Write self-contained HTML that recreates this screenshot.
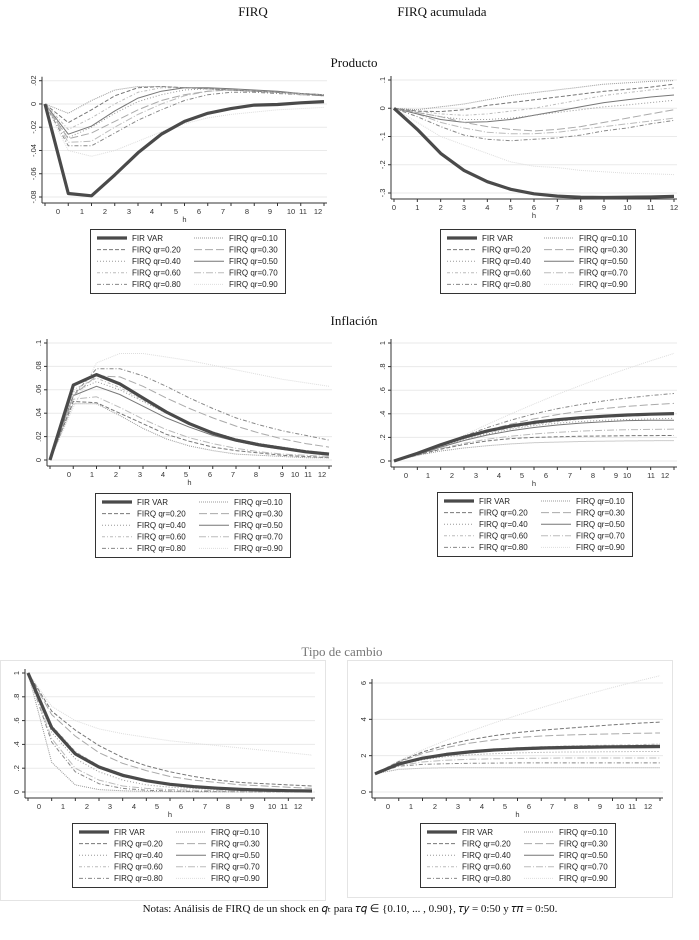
<!DOCTYPE html>
<html><head><meta charset="utf-8"><style>
body{margin:0;background:#fff;width:699px;height:940px;overflow:hidden;font-family:"Liberation Sans",sans-serif}
svg{position:absolute;left:0;top:0}
.t{font-family:"Liberation Serif",serif;font-size:13px;fill:#111}
.ax{font-size:7.5px;fill:#333}
.lg{font-size:8px;fill:#222}
</style></head><body>
<svg id="fig" width="699" height="940">
<text class="t" x="253" y="16" text-anchor="middle">FIRQ</text>
<text class="t" x="442" y="16" text-anchor="middle">FIRQ acumulada</text>
<text class="t" x="354" y="67" text-anchor="middle">Producto</text>
<text class="t" x="354" y="325" text-anchor="middle">Inflación</text>
<text class="t" x="342" y="656" text-anchor="middle" style="fill:#777">Tipo de cambio</text>
<rect x="0.5" y="660.5" width="325" height="240" fill="none" stroke="#e4e4e4"/>
<rect x="347.5" y="660.5" width="325" height="237" fill="none" stroke="#e4e4e4"/>
<text class="t" x="350" y="912" text-anchor="middle" style="font-size:11px">Notas: Análisis de FIRQ de un shock en 𝑞ₜ para 𝜏𝑞 ∈ {0.10, ... , 0.90}, 𝜏𝑦 = 0:50 y 𝜏𝜋 = 0:50.</text>
</svg>
<script>
const names=["FIR VAR","FIRQ qr=0.10","FIRQ qr=0.20","FIRQ qr=0.30","FIRQ qr=0.40","FIRQ qr=0.50","FIRQ qr=0.60","FIRQ qr=0.70","FIRQ qr=0.80","FIRQ qr=0.90"];
const xCats=[0,1,2,3,4,5,6,7,8,9,10,11,12];
// Producto FIRQ
const p1VAR=[0,-0.077,-0.079,-0.061,-0.042,-0.026,-0.015,-0.008,-0.004,-0.001,-0.0005,0.001,0.002];
const p1Q=[
[0,-0.008,0.003,0.012,0.015,0.015,0.014,0.013,0.012,0.011,0.01,0.009,0.008],
[0,-0.016,-0.005,0.007,0.014,0.015,0.014,0.013,0.012,0.011,0.01,0.009,0.008],
[0,-0.03,-0.025,-0.015,-0.005,0.003,0.008,0.011,0.012,0.011,0.01,0.009,0.008],
[0,-0.029,-0.02,-0.008,0.002,0.008,0.012,0.013,0.012,0.011,0.01,0.009,0.008],
[0,-0.026,-0.019,-0.006,0.005,0.011,0.014,0.014,0.013,0.012,0.011,0.009,0.007],
[0,-0.022,-0.012,0,0.01,0.014,0.014,0.013,0.012,0.011,0.01,0.008,0.007],
[0,-0.033,-0.032,-0.02,-0.009,0,0.007,0.011,0.012,0.011,0.01,0.008,0.007],
[0,-0.036,-0.036,-0.025,-0.014,-0.005,0.003,0.008,0.01,0.01,0.009,0.008,0.007],
[0,-0.04,-0.045,-0.04,-0.032,-0.024,-0.017,-0.012,-0.009,-0.007,-0.005,-0.004,-0.003]];
const p1Ticks=[0.02,0,-0.02,-0.04,-0.06,-0.08];
const p1TickLabels=[".02","0","-.02","-.04","-.06","-.08"];
// Producto acumulada
const p2VAR=[0,-0.075,-0.16,-0.22,-0.26,-0.287,-0.303,-0.311,-0.315,-0.316,-0.315,-0.314,-0.312];
const p2Q=[
[0,-0.005,0.005,0.015,0.03,0.045,0.055,0.065,0.075,0.085,0.09,0.095,0.098],
[0,-0.01,-0.012,-0.005,0.01,0.02,0.03,0.04,0.05,0.06,0.067,0.075,0.085],
[0,-0.015,-0.03,-0.05,-0.065,-0.075,-0.08,-0.075,-0.065,-0.05,-0.035,-0.02,-0.005],
[0,-0.015,-0.03,-0.04,-0.04,-0.035,-0.025,-0.015,-0.005,0.005,0.012,0.02,0.028],
[0,-0.02,-0.04,-0.05,-0.048,-0.04,-0.025,-0.01,0.005,0.02,0.03,0.04,0.047],
[0,-0.01,-0.02,-0.025,-0.02,-0.01,0,0.015,0.03,0.045,0.055,0.065,0.072],
[0,-0.02,-0.05,-0.07,-0.085,-0.09,-0.09,-0.085,-0.075,-0.065,-0.055,-0.045,-0.035],
[0,-0.03,-0.065,-0.095,-0.11,-0.115,-0.11,-0.105,-0.095,-0.08,-0.07,-0.055,-0.043],
[0,-0.05,-0.1,-0.13,-0.16,-0.19,-0.205,-0.21,-0.22,-0.225,-0.23,-0.232,-0.235]];
const p2Ticks=[0.1,0,-0.1,-0.2,-0.3];
const p2TickLabels=[".1","0","-.1","-.2","-.3"];
// Inflación FIRQ
const p3VAR=[0,0.064,0.073,0.065,0.053,0.041,0.031,0.023,0.017,0.013,0.01,0.007,0.005];
const p3Q=[
[0,0.048,0.048,0.038,0.027,0.018,0.012,0.008,0.005,0.004,0.003,0.002,0.002],
[0,0.05,0.049,0.04,0.031,0.022,0.016,0.011,0.008,0.006,0.004,0.003,0.002],
[0,0.055,0.072,0.071,0.063,0.053,0.044,0.036,0.029,0.023,0.018,0.014,0.011],
[0,0.058,0.067,0.06,0.05,0.04,0.031,0.024,0.018,0.014,0.011,0.008,0.006],
[0,0.055,0.063,0.056,0.046,0.036,0.028,0.021,0.016,0.012,0.009,0.007,0.005],
[0,0.06,0.07,0.062,0.051,0.04,0.031,0.024,0.018,0.014,0.011,0.008,0.006],
[0,0.052,0.054,0.045,0.035,0.026,0.019,0.014,0.01,0.007,0.005,0.004,0.003],
[0,0.055,0.078,0.078,0.072,0.063,0.053,0.044,0.036,0.03,0.025,0.021,0.017],
[0,0.045,0.083,0.091,0.091,0.088,0.085,0.081,0.077,0.073,0.069,0.066,0.063]];
const p3Ticks=[0.1,0.08,0.06,0.04,0.02,0];
const p3TickLabels=[".1",".08",".06",".04",".02","0"];
// Inflación acumulada
const p4VAR=[0,0.064,0.137,0.202,0.255,0.296,0.327,0.35,0.367,0.38,0.39,0.397,0.402];
const p4Q=[
[0,0.048,0.085,0.11,0.13,0.145,0.155,0.16,0.165,0.168,0.17,0.172,0.173],
[0,0.05,0.1,0.14,0.17,0.19,0.2,0.205,0.21,0.212,0.214,0.215,0.216],
[0,0.055,0.127,0.198,0.26,0.313,0.357,0.393,0.422,0.445,0.463,0.477,0.488],
[0,0.058,0.125,0.185,0.23,0.27,0.3,0.32,0.335,0.345,0.352,0.357,0.362],
[0,0.055,0.118,0.174,0.22,0.256,0.284,0.305,0.321,0.333,0.342,0.345,0.345],
[0,0.06,0.13,0.19,0.24,0.28,0.31,0.335,0.355,0.37,0.38,0.39,0.395],
[0,0.052,0.106,0.15,0.185,0.21,0.229,0.243,0.253,0.26,0.265,0.268,0.27],
[0,0.055,0.133,0.211,0.283,0.346,0.399,0.443,0.479,0.509,0.534,0.555,0.572],
[0,0.045,0.128,0.219,0.31,0.398,0.483,0.564,0.641,0.714,0.783,0.849,0.912]];
const p4Ticks=[1,0.8,0.6,0.4,0.2,0];
const p4TickLabels=["1",".8",".6",".4",".2","0"];
// Tipo de cambio FIRQ
const p5VAR=[1,0.54,0.32,0.21,0.14,0.095,0.065,0.045,0.032,0.022,0.016,0.011,0.008];
const p5Q=[
[1,0.25,0.06,0.02,0.01,0.005,0.003,0.002,0.001,0.001,0,0,0],
[1,0.68,0.52,0.39,0.29,0.22,0.17,0.13,0.1,0.08,0.07,0.06,0.05],
[1,0.65,0.47,0.33,0.24,0.18,0.13,0.1,0.08,0.06,0.05,0.04,0.03],
[1,0.5,0.28,0.17,0.1,0.06,0.04,0.03,0.02,0.015,0.01,0.008,0.006],
[1,0.53,0.31,0.2,0.13,0.09,0.06,0.04,0.03,0.02,0.015,0.01,0.008],
[1,0.56,0.34,0.22,0.15,0.1,0.07,0.05,0.035,0.025,0.018,0.013,0.01],
[1,0.45,0.2,0.1,0.05,0.03,0.02,0.015,0.01,0.008,0.006,0.005,0.004],
[1,0.42,0.17,0.07,0.03,0.015,0.008,0.005,0.003,0.002,0.001,0.001,0.001],
[1,0.72,0.6,0.53,0.49,0.46,0.43,0.41,0.39,0.37,0.35,0.33,0.31]];
const p5Ticks=[1,0.8,0.6,0.4,0.2,0];
const p5TickLabels=["1",".8",".6",".4",".2","0"];
// Tipo de cambio acumulada
const p6VAR=[1,1.54,1.86,2.07,2.21,2.31,2.37,2.42,2.45,2.47,2.49,2.5,2.51];
const p6Q=[
[1,1.25,1.31,1.33,1.33,1.33,1.33,1.33,1.33,1.33,1.33,1.33,1.33],
[1,1.68,2.2,2.59,2.88,3.1,3.27,3.4,3.5,3.6,3.7,3.78,3.85],
[1,1.65,2.12,2.45,2.69,2.87,3.0,3.08,3.13,3.17,3.2,3.23,3.25],
[1,1.5,1.78,1.95,2.05,2.11,2.15,2.18,2.2,2.21,2.22,2.23,2.23],
[1,1.53,1.84,2.04,2.17,2.26,2.32,2.36,2.39,2.41,2.42,2.43,2.44],
[1,1.56,1.9,2.12,2.27,2.37,2.44,2.49,2.53,2.56,2.58,2.6,2.65],
[1,1.45,1.65,1.75,1.8,1.83,1.85,1.86,1.87,1.87,1.87,1.87,1.87],
[1,1.42,1.52,1.56,1.58,1.59,1.6,1.6,1.6,1.6,1.6,1.6,1.6],
[1,1.72,2.32,2.85,3.34,3.8,4.23,4.64,5.03,5.4,5.75,6.08,6.4]];
const p6Ticks=[6,4,2,0];
const p6TickLabels=["6","4","2","0"];

const styles=[
{c:"#4a4a4a",w:3.2,d:""},
{c:"#999",w:1,d:"1 1"},
{c:"#777",w:1,d:"4 2"},
{c:"#aaa",w:1,d:"8 3"},
{c:"#999",w:1,d:"1 2"},
{c:"#777",w:1,d:""},
{c:"#bbb",w:1,d:"3 2 1 2"},
{c:"#bbb",w:1,d:"7 2 1 2"},
{c:"#888",w:1,d:"4 2 1 2"},
{c:"#ddd",w:1,d:"1 1"}];

const panels=[
{id:"producto-firq",x0:45,x1:324,vmax:0.02,ymax:80.7,vmin:-0.08,ymin:197,var:p1VAR,q:p1Q,ticks:p1Ticks,tl:p1TickLabels,lx:[58,82,105,129,152,176,199,223,247,270,291,303,318],lg:[90,229]},
{id:"producto-acum",x0:394,x1:674,vmax:0.1,ymax:80,vmin:-0.3,ymin:193,var:p2VAR,q:p2Q,ticks:p2Ticks,tl:p2TickLabels,lx:null,lg:[440,229]},
{id:"inflacion-firq",x0:50,x1:329,vmax:0.1,ymax:343,vmin:0,ymin:460,var:p3VAR,q:p3Q,ticks:p3Ticks,tl:p3TickLabels,lx:[69,92,116,140,163,186,210,233,256,282,295,308,322],lg:[95,493]},
{id:"inflacion-acum",x0:394,x1:674,vmax:1,ymax:343,vmin:0,ymin:461,var:p4VAR,q:p4Q,ticks:p4Ticks,tl:p4TickLabels,lx:[406,428,452,476,499,522,546,570,593,616,627,651,665],lg:[437,492]},
{id:"cambio-firq",x0:28,x1:312,vmax:1,ymax:673,vmin:0,ymin:792,var:p5VAR,q:p5Q,ticks:p5Ticks,tl:p5TickLabels,lx:[39,63,87,110,134,157,181,205,228,252,272,284,298],lg:[72,823]},
{id:"cambio-acum",x0:375,x1:660,vmax:6,ymax:683,vmin:0,ymin:792,var:p6VAR,q:p6Q,ticks:p6Ticks,tl:p6TickLabels,lx:[388,411,435,458,482,505,529,552,576,600,620,632,648],lg:[420,823]}];

const svg=document.getElementById("fig");
const NS="http://www.w3.org/2000/svg";
function mk(t,a){const e=document.createElementNS(NS,t);for(const k in a)e.setAttribute(k,a[k]);svg.appendChild(e);return e;}

panels.forEach(p=>{
  const xAt=i=>p.x0+(p.x1-p.x0)*i/(xCats.length-1);
  const yAt=v=>p.ymin+(v-p.vmin)*(p.ymax-p.ymin)/(p.vmax-p.vmin);
  const axY=Math.max(...p.ticks.map(yAt))+6;
  p.ticks.forEach((t,i)=>{
    const y=yAt(t);
    const g=mk("line",{x1:p.x0-3,x2:p.x1+3,y1:y,y2:y,stroke:"#eaeaea","stroke-width":1});
    
    
    const tk=mk("line",{x1:p.x0-6,x2:p.x0-3,y1:y,y2:y,stroke:"#333"});
    
    
    const lb=mk("text",{class:"ax",x:p.x0-9,y:y,transform:`rotate(-90 ${p.x0-9} ${y})`,"text-anchor":"middle"});
    lb.textContent=p.tl[i];
    
    
  });
  const ya=mk("line",{x1:p.x0-3,x2:p.x0-3,y1:Math.min(...p.ticks.map(yAt))-4,y2:axY,stroke:"#333"});
  
  
  const xa=mk("line",{x1:p.x0-3,x2:p.x1+3,y1:axY,y2:axY,stroke:"#333"});
  
  
  xCats.forEach((c,i)=>{
    const tk=mk("line",{x1:xAt(i),x2:xAt(i),y1:axY,y2:axY+3,stroke:"#333"});
    
    
    const lx=p.lx?p.lx[i]:xAt(i);
    const lb=mk("text",{class:"ax",x:lx,y:axY+11,"text-anchor":"middle"});
    lb.textContent=c;
    
    
  });
  const h=mk("text",{class:"ax",x:(p.x0+p.x1)/2,y:axY+19,"text-anchor":"middle"});
  h.textContent="h";
  
  
  const series=[...p.q.slice().reverse(),p.var];
  const sidx=[9,8,7,6,5,4,3,2,1,0];
  series.forEach((s,k)=>{
    const st=styles[sidx[k]];
    const pts=s.map((v,i)=>xAt(i).toFixed(1)+","+yAt(v).toFixed(1)).join(" ");
    const pl=mk("polyline",{points:pts,fill:"none",stroke:st.c,"stroke-width":st.w,"stroke-dasharray":st.d,"stroke-linejoin":"round"});
    
    
  });
  const [lx0,ly0]=p.lg;
  const box=mk("rect",{x:lx0+0.5,y:ly0+0.5,width:195,height:64,fill:"#fff",stroke:"#333"});
  
  
  names.forEach((n,i)=>{
    const col=i%2,row=Math.floor(i/2);
    const ex=lx0+7+col*97, ey=ly0+9+row*11.6;
    const st=styles[i];
    const ln=mk("line",{x1:ex,x2:ex+30,y1:ey,y2:ey,stroke:st.c,"stroke-width":st.w,"stroke-dasharray":st.d});
    
    
    const tx=mk("text",{class:"lg",x:ex+35,y:ey+2.8});
    tx.textContent=n;
    
    
  });
});
</script>
</body></html>
